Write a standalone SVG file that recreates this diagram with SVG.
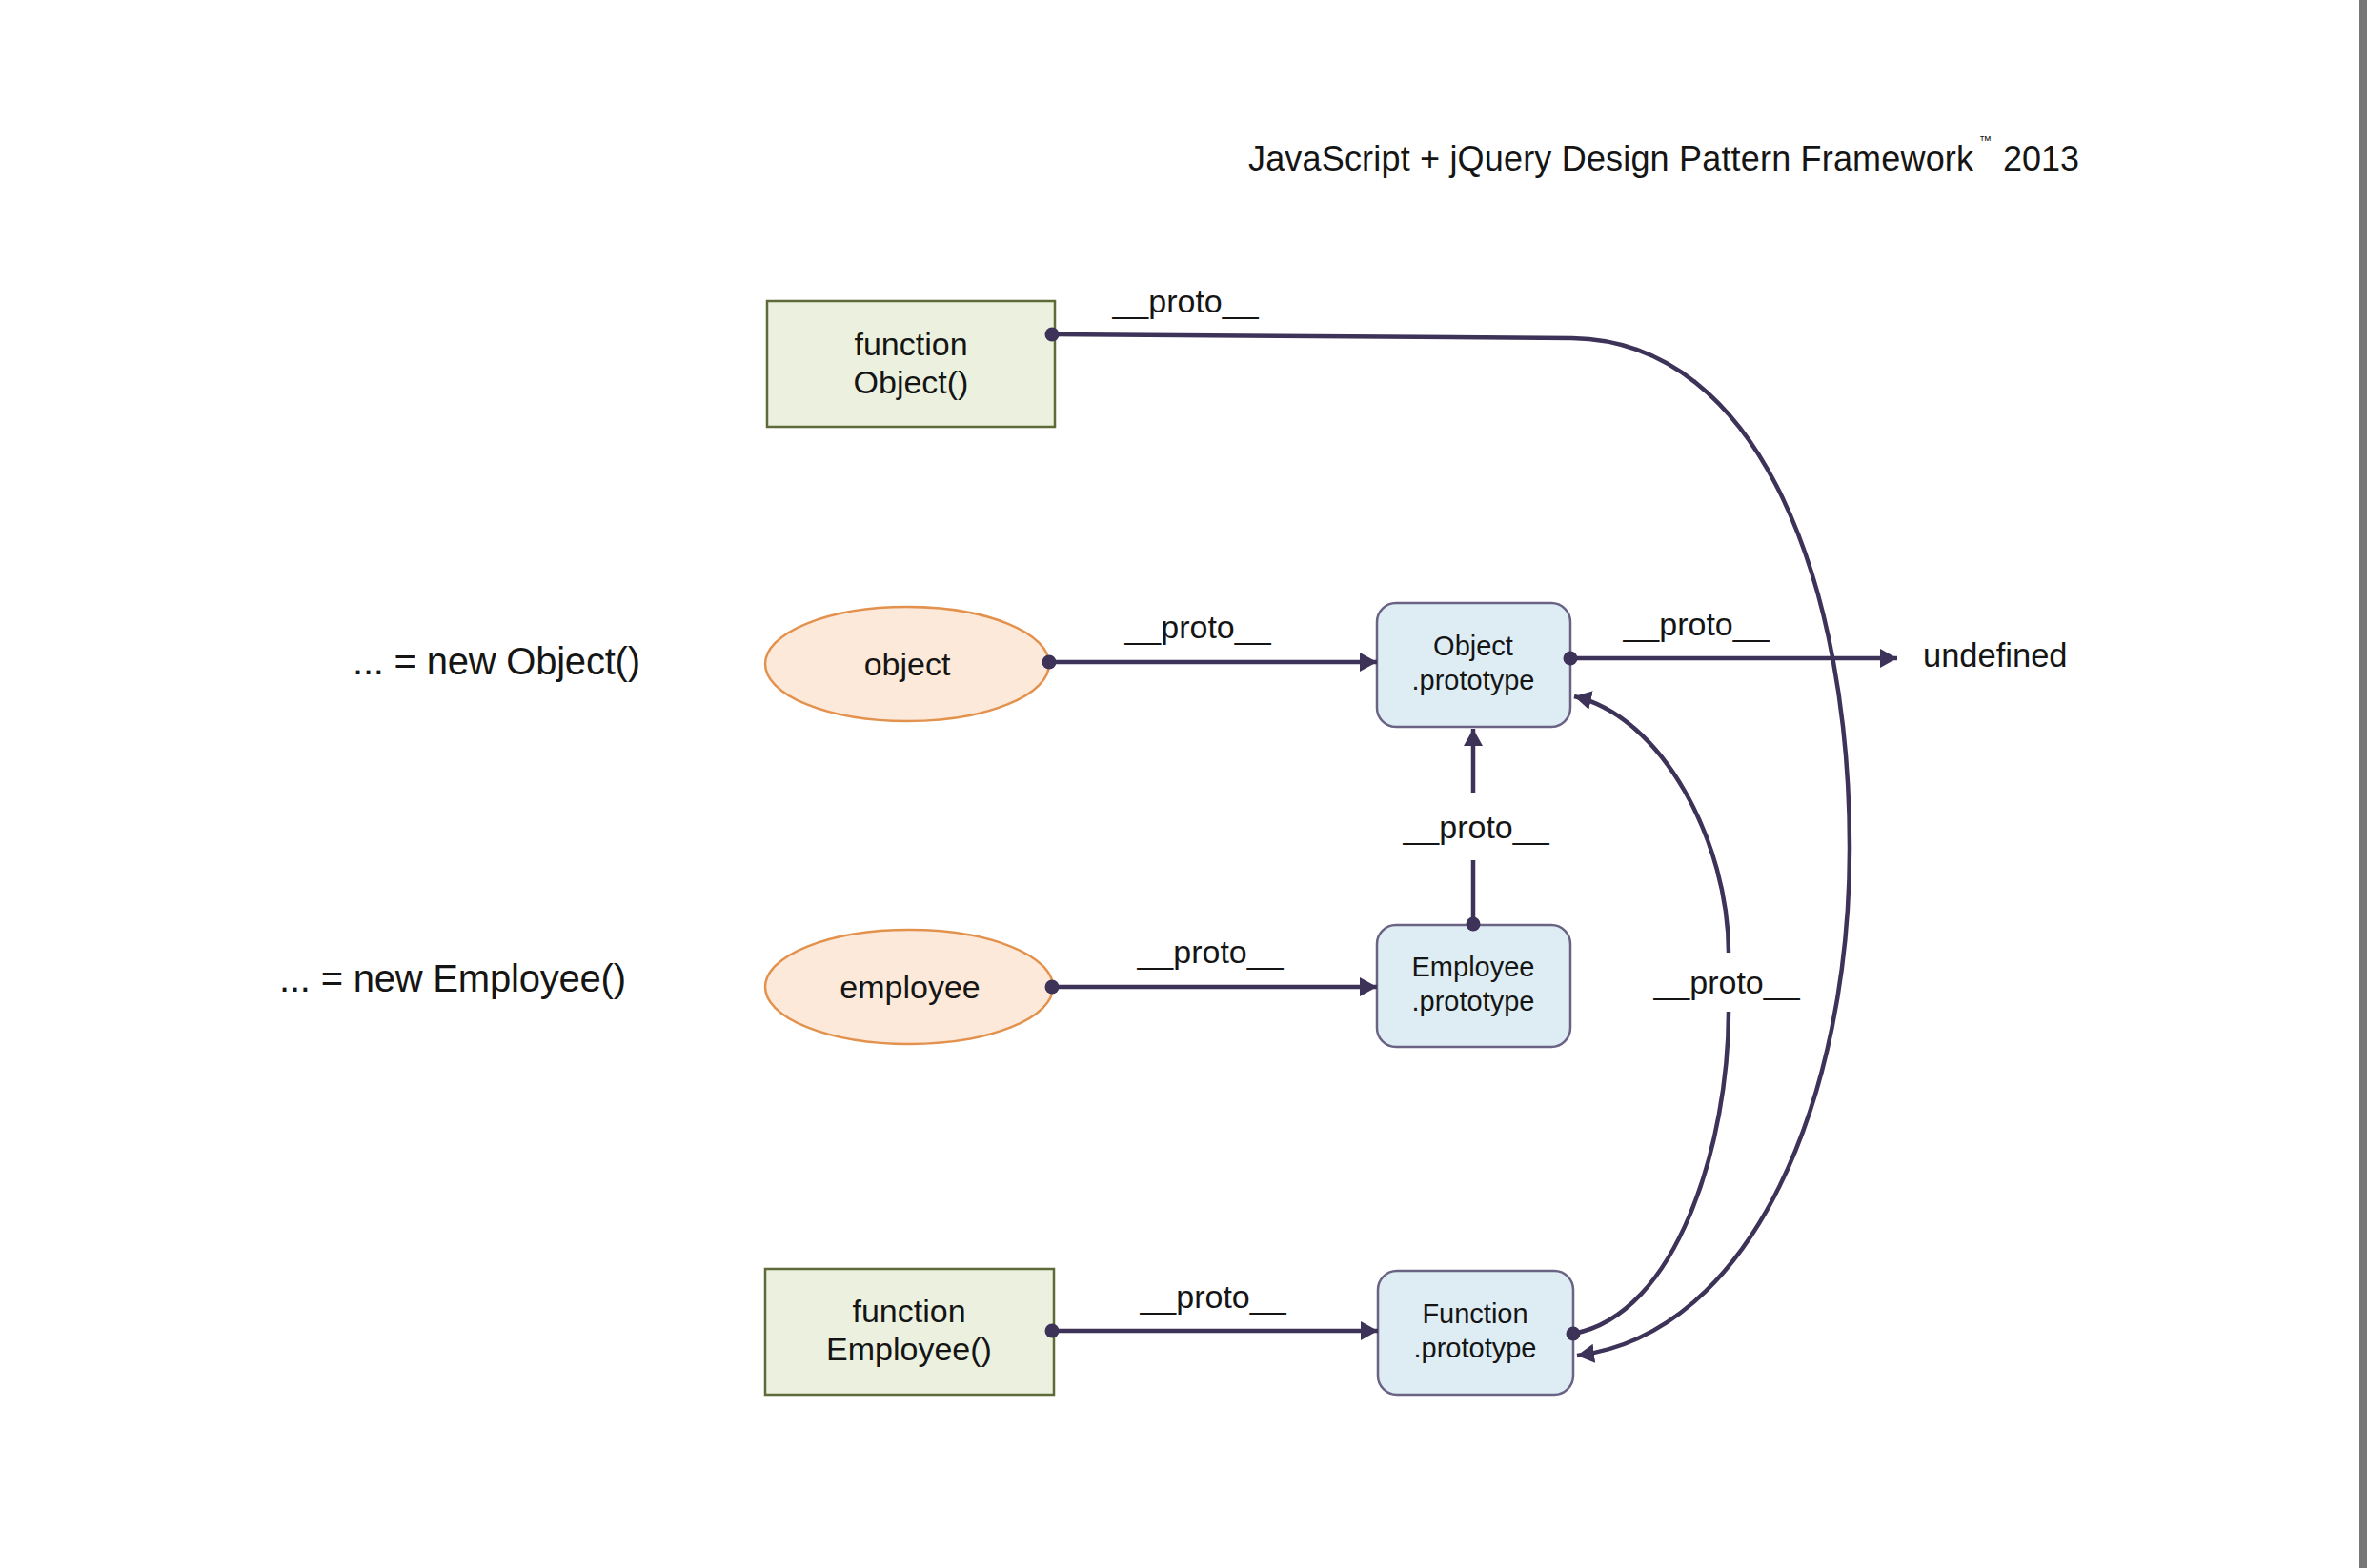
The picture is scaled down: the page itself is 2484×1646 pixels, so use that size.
<svg xmlns="http://www.w3.org/2000/svg" width="2484" height="1646" viewBox="0 0 2484 1646">
<style>
text{font-family:"Liberation Sans",Arial,sans-serif;fill:#151515}
.t{font-size:36px}
.lbl{font-size:34px;text-anchor:middle}
.big{font-size:40px}
.fn{font-size:34px;text-anchor:middle}
.pr{font-size:29px;text-anchor:middle}
.fbox{fill:#ebf1de;stroke:#5c6b38;stroke-width:2.5}
.ell{fill:#fde9d9;stroke:#e3924e;stroke-width:2.5}
.pbox{fill:#deedf3;stroke:#6a6384;stroke-width:2.5}
.c{fill:none;stroke:#3d3257;stroke-width:4.5}
.dot{fill:#3d3257}
</style>
<defs>
<marker id="ah" markerUnits="userSpaceOnUse" markerWidth="20" markerHeight="22" refX="18" refY="10" orient="auto">
<path d="M0,0 L18,10 L0,20 z" fill="#3d3257"/>
</marker>
</defs>
<rect x="0" y="0" width="2484" height="1646" fill="#ffffff"/>
<rect x="2476" y="0" width="8" height="1646" fill="#777777"/>

<g id="title">
<text class="t" x="1310" y="179" textLength="761">JavaScript + jQuery Design Pattern Framework</text>
<text x="2077" y="152" style="font-size:13px">™</text>
<text class="t" x="2102" y="179">2013</text>
</g>

<g id="caption-object"><text class="big" x="370" y="708" textLength="302">... = new Object()</text></g>
<g id="caption-employee"><text class="big" x="293" y="1041" textLength="364">... = new Employee()</text></g>

<g id="function-object">
<rect class="fbox" x="805" y="316" width="302" height="132"/>
<text class="fn" x="956" y="373">function</text>
<text class="fn" x="956" y="413">Object()</text>
</g>

<g id="object">
<ellipse class="ell" cx="952" cy="697" rx="149" ry="60"/>
<text class="fn" x="952" y="709">object</text>
</g>

<g id="object-prototype">
<rect class="pbox" x="1445" y="633" width="203" height="130" rx="20"/>
<text class="pr" x="1546" y="688">Object</text>
<text class="pr" x="1546" y="724">.prototype</text>
</g>

<g id="employee">
<ellipse class="ell" cx="954" cy="1036" rx="151" ry="60"/>
<text class="fn" x="955" y="1048">employee</text>
</g>

<g id="employee-prototype">
<rect class="pbox" x="1445" y="971" width="203" height="128" rx="20"/>
<text class="pr" x="1546" y="1025">Employee</text>
<text class="pr" x="1546" y="1061">.prototype</text>
</g>

<g id="function-employee">
<rect class="fbox" x="803" y="1332" width="303" height="132"/>
<text class="fn" x="954" y="1388">function</text>
<text class="fn" x="954" y="1428">Employee()</text>
</g>

<g id="function-prototype">
<rect class="pbox" x="1446" y="1334" width="205" height="130" rx="20"/>
<text class="pr" x="1548" y="1389">Function</text>
<text class="pr" x="1548" y="1425">.prototype</text>
</g>

<g id="undefined"><text x="2018" y="700" style="font-size:34.5px">undefined</text></g>

<g id="connectors">
<path class="c" d="M1104,351 L1650,355 C1850,358 1941,620 1941,890 C1941,1150 1840,1400 1655,1423" marker-end="url(#ah)"/>
<circle class="dot" cx="1104" cy="351" r="7.5"/>
<text class="lbl" x="1244" y="328">__proto__</text>

<path class="c" d="M1101,695 L1445,695" marker-end="url(#ah)"/>
<circle class="dot" cx="1101" cy="695" r="7.5"/>
<text class="lbl" x="1257" y="670">__proto__</text>

<path class="c" d="M1648,691 L1991,691" marker-end="url(#ah)"/>
<circle class="dot" cx="1648" cy="691" r="7.5"/>
<text class="lbl" x="1780" y="667">__proto__</text>

<path class="c" d="M1546,832 L1546,765" marker-end="url(#ah)"/>
<path class="c" d="M1546,903 L1546,970"/>
<circle class="dot" cx="1546" cy="970" r="7.5"/>
<text class="lbl" x="1549" y="880">__proto__</text>

<path class="c" d="M1104,1036 L1445,1036" marker-end="url(#ah)"/>
<circle class="dot" cx="1104" cy="1036" r="7.5"/>
<text class="lbl" x="1270" y="1011">__proto__</text>

<path class="c" d="M1104,1397 L1446,1397" marker-end="url(#ah)"/>
<circle class="dot" cx="1104" cy="1397" r="7.5"/>
<text class="lbl" x="1273" y="1373">__proto__</text>

<path class="c" d="M1651,1400 C1760,1380 1814,1200 1814,1062"/>
<path class="c" d="M1814,1000 C1814,885 1745,752 1652,731" marker-end="url(#ah)"/>
<circle class="dot" cx="1651" cy="1400" r="7.5"/>
<text class="lbl" x="1812" y="1043">__proto__</text>
</g>
</svg>
